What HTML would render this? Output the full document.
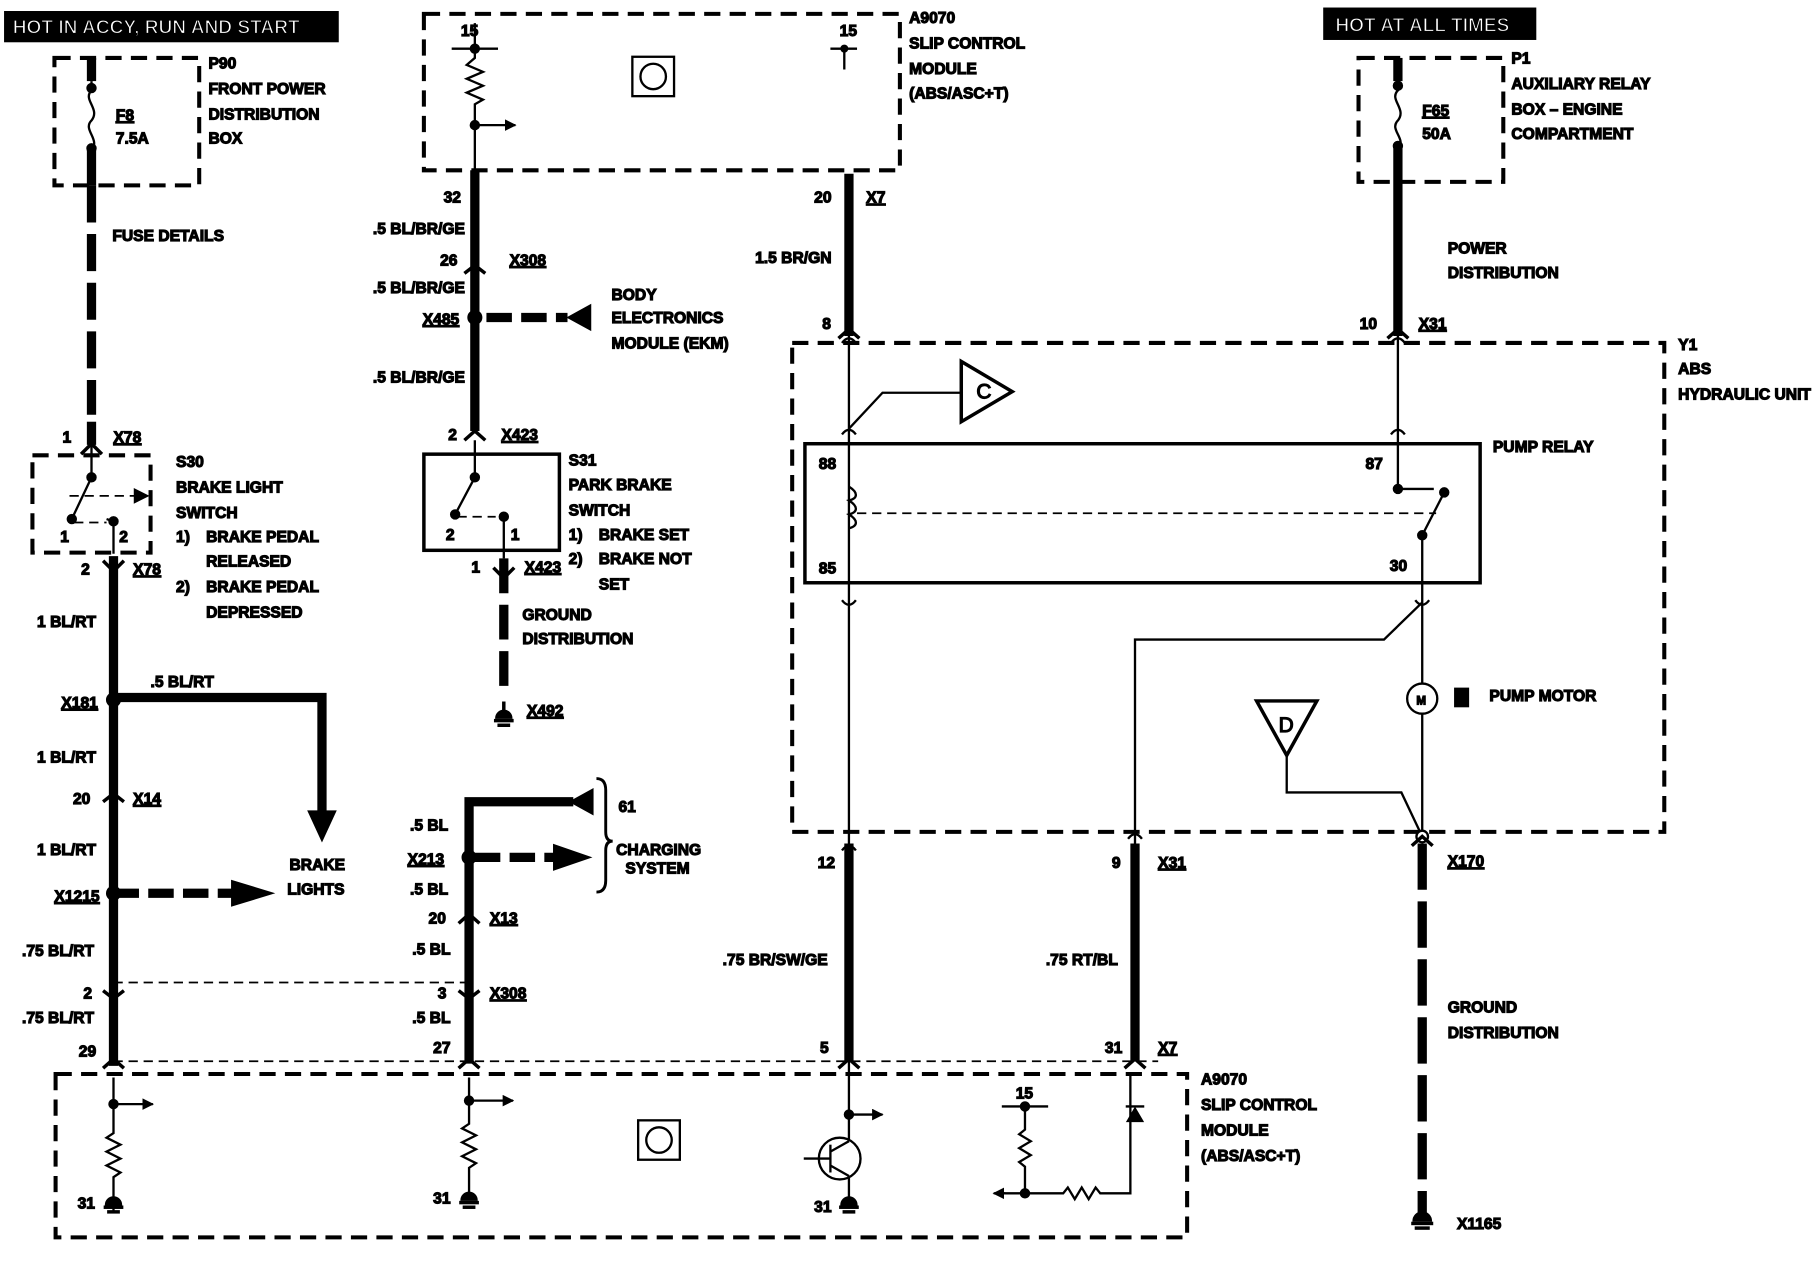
<!DOCTYPE html>
<html><head><meta charset="utf-8"><style>
html,body{margin:0;padding:0;background:#fff}
svg{display:block}
text{font-family:"Liberation Sans",Arial,sans-serif;font-weight:bold;font-size:13.5px;fill:#000}
.u{text-decoration:underline}
</style></head><body>
<svg width="1816" height="1264" viewBox="0 0 1568 1091" preserveAspectRatio="none" xmlns="http://www.w3.org/2000/svg">
<defs>
<marker id="ah" viewBox="0 0 10 10" refX="9" refY="5" markerWidth="5" markerHeight="5" orient="auto"><path d="M0,0 L10,5 L0,10z"/></marker>
</defs>
<g fill="none" stroke="#000">
<g stroke-width="3.5" stroke-dasharray="14,8">
<rect x="47" y="50" width="125" height="110"/>
<rect x="366" y="12" width="411" height="135"/>
<rect x="28" y="393" width="102" height="84"/>
<rect x="1173" y="50" width="125" height="107"/>
<rect x="684" y="296" width="753" height="422"/>
<rect x="48" y="927" width="977" height="141"/>
</g>
<rect x="366" y="392" width="117" height="83" stroke-width="3"/>
<rect x="695" y="383" width="583" height="120" stroke-width="3"/>
<g stroke-width="1.5" stroke-dasharray="8,5">
<line x1="98" y1="848" x2="405" y2="848"/>
<line x1="98" y1="916" x2="1000" y2="916"/>
<line x1="740" y1="443" x2="1240" y2="443"/>
<line x1="60" y1="428" x2="118" y2="428"/>
<line x1="64" y1="451" x2="92" y2="451"/>
<line x1="395" y1="446" x2="428" y2="446"/>
</g>
<g stroke-width="8">
<line x1="79" y1="50" x2="79" y2="70"/><line x1="79" y1="130" x2="79" y2="160"/>
<line x1="79" y1="160" x2="79" y2="358" stroke-dasharray="32,10"/>
<line x1="79" y1="364" x2="79" y2="384"/>
<line x1="98" y1="480" x2="98" y2="920"/>
<polyline points="98,602 278,602 278,700"/>
<line x1="98" y1="771" x2="200" y2="771" stroke-dasharray="22,8"/>
<line x1="410" y1="147" x2="410" y2="372"/>
<line x1="420" y1="274" x2="490" y2="274" stroke-dasharray="22,8"/>
<line x1="435" y1="482" x2="435" y2="600" stroke-dasharray="30,10"/>
<polyline points="405,740 405,692 495,692"/>
<line x1="410" y1="740" x2="478" y2="740" stroke-dasharray="22,8"/>
<line x1="405" y1="740" x2="405" y2="918"/>
<line x1="733" y1="150" x2="733" y2="290"/>
<line x1="733" y1="728" x2="733" y2="916"/>
<line x1="980" y1="728" x2="980" y2="916"/>
<line x1="1207" y1="50" x2="1207" y2="70"/><line x1="1207" y1="128" x2="1207" y2="290"/>
<line x1="1228" y1="728" x2="1228" y2="1050" stroke-dasharray="40,10"/>
</g>
<g stroke-width="2">
<path d="M79,70 v8 c-8,8 8,16 0,26 c-8,8 8,16 0,26"/>
<path d="M1207,70 v8 c-8,8 8,16 0,26 c-8,8 8,16 0,24"/>
<line x1="79" y1="384" x2="79" y2="412"/><line x1="79" y1="412" x2="62" y2="448"/>
<polyline points="98,478 98,450 92,448"/>
<line x1="410" y1="380" x2="410" y2="412"/><line x1="410" y1="412" x2="393" y2="444"/>
<polyline points="435,482 435,446 431,446"/>
<path d="M410,20 v30 l-7,6 l14,6 l-14,6 l14,6 l-14,6 l14,6 l-7,4 v60"/>
<line x1="410" y1="108" x2="445" y2="108" marker-end="url(#ah)"/>
<line x1="390" y1="42" x2="430" y2="42"/><line x1="717" y1="42" x2="740" y2="42"/><line x1="729" y1="42" x2="729" y2="60"/>
<rect x="546" y="49" width="36" height="34"/><circle cx="564" cy="66" r="11"/>
<rect x="551" y="967" width="36" height="34"/><circle cx="569" cy="984" r="11"/>
<line x1="733" y1="290" x2="733" y2="728"/>
<path d="M727,296 q6,-8 12,0 M727,375 q6,-8 12,0 M727,518 q6,8 12,0 M727,734 q6,-8 12,0"/>
<polyline points="733,370 762,339 830,339"/>
<polygon points="830,312 830,364 874,338" stroke-width="3"/>
<path d="M733,420 c8,5 8,10 0,12 c8,5 8,10 0,12 c8,5 8,10 0,12"/>
<line x1="1207" y1="290" x2="1207" y2="422"/>
<path d="M1201,296 q6,-8 12,0 M1201,375 q6,-8 12,0"/>
<line x1="1207" y1="422" x2="1238" y2="422"/>
<line x1="1228" y1="462" x2="1247" y2="425"/>
<line x1="1228" y1="462" x2="1228" y2="722"/>
<path d="M1222,518 q6,8 12,0"/>
<polyline points="1228,520 1195,552 980,552 980,728"/>
<path d="M974,724 q6,-8 12,0"/>
<polygon points="1085,605 1137,605 1111,652" stroke-width="3"/>
<polyline points="1111,652 1111,684 1210,684 1228,722"/>
<circle cx="1228" cy="722" r="5" fill="#fff"/>
<circle cx="1228" cy="603" r="13" fill="#fff"/>
<path d="M98,930 v48 l-6,4 l12,6 l-12,6 l12,6 l-12,6 l12,6 l-6,4 v30"/>
<line x1="98" y1="953" x2="132" y2="953" marker-end="url(#ah)"/>
<path d="M405,930 v40 l-6,4 l12,6 l-12,6 l12,6 l-12,6 l12,6 l-6,4 v28"/>
<line x1="405" y1="950" x2="443" y2="950" marker-end="url(#ah)"/>
<line x1="733" y1="916" x2="733" y2="985"/>
<line x1="733" y1="962" x2="762" y2="962" marker-end="url(#ah)"/>
<circle cx="725" cy="1000" r="18"/>
<line x1="694" y1="1000" x2="717" y2="1000"/><line x1="717" y1="988" x2="717" y2="1012"/>
<line x1="717" y1="994" x2="733" y2="985"/><line x1="717" y1="1006" x2="733" y2="1015"/>
<line x1="733" y1="1015" x2="733" y2="1036"/>
<line x1="865" y1="955" x2="905" y2="955"/>
<path d="M885,955 v20 l-5,4 l10,6 l-10,6 l10,6 l-10,6 l5,4 v23 M860,1030 H918 l4,-5 l6,10 l6,-10 l6,10 l6,-10 l4,5 h26 V927"/>
<line x1="868" y1="1030" x2="858" y2="1030" marker-end="url(#ah)"/>
<line x1="972" y1="955" x2="988" y2="955"/>
<path d="M515,672 q8,0 8,10 v36 q0,8 6,8 q-6,0 -6,8 v26 q0,10 -8,10" stroke-width="2.5"/>
<path d="M70,392 l9,-9 l9,9 M89,484 l9,9 l9,-9 M89,692 l9,-7 l9,7 M89,855 l9,7 l9,-7 M89,922 l9,-8 l9,8 M401,380 l9,-8 l9,8 M401,236 l9,-7 l9,7 M426,490 l9,9 l9,-9 M396,797 l9,-8 l9,8 M396,855 l9,7 l9,-7 M396,922 l9,-8 l9,8 M724,292 l9,-8 l9,8 M724,922 l9,-8 l9,8 M971,922 l9,-8 l9,8 M1198,292 l9,-8 l9,8 M1219,730 l9,-8 l9,8" stroke-width="3"/>
</g>
<g fill="#000">
<circle cx="79" cy="76" r="4"/><circle cx="79" cy="128" r="4"/>
<circle cx="1207" cy="74" r="4"/><circle cx="1207" cy="126" r="4"/>
<circle cx="410" cy="42" r="4"/><circle cx="410" cy="108" r="4"/><circle cx="729" cy="42" r="3"/>
<circle cx="79" cy="412" r="4"/><circle cx="62" cy="448" r="4"/><circle cx="98" cy="450" r="4"/>
<circle cx="410" cy="412" r="4"/><circle cx="393" cy="444" r="4"/><circle cx="435" cy="446" r="4"/>
<circle cx="98" cy="604" r="6"/><circle cx="98" cy="771" r="6"/><circle cx="410" cy="274" r="6"/><circle cx="405" cy="740" r="6"/>
<circle cx="1207" cy="422" r="4"/><circle cx="1228" cy="462" r="4"/><circle cx="1247" cy="425" r="4"/>
<circle cx="98" cy="953" r="4"/><circle cx="405" cy="950" r="4"/><circle cx="733" cy="962" r="4"/>
<circle cx="885" cy="955" r="4"/><circle cx="885" cy="1030" r="4"/>
<polygon points="128,428 116,422 116,434"/>
<polygon points="266,700 290,700 278,726"/>
<polygon points="200,760 200,782 236,771"/>
<polygon points="510,263 510,285 490,274"/>
<polygon points="512,681 512,703 492,692"/>
<polygon points="478,729 478,751 510,740"/>
<polygon points="973,968 987,968 980,956"/>
<rect x="1256" y="594" width="12" height="16"/>
<rect x="4" y="10" width="288" height="26"/><rect x="1143" y="7" width="183" height="27"/>
<path d="M91,1040 a7,7 0 0 1 14,0z"/><rect x="90" y="1041" width="16" height="2"/><rect x="93" y="1045" width="10" height="2"/>
<path d="M398,1036 a7,7 0 0 1 14,0z"/><rect x="397" y="1037" width="16" height="2"/><rect x="400" y="1041" width="10" height="2"/>
<path d="M726,1040 a7,7 0 0 1 14,0z"/><rect x="725" y="1041" width="16" height="2"/><rect x="728" y="1045" width="10" height="2"/>
<rect x="434" y="606" width="2" height="8"/>
<path d="M428,620 a7,7 0 0 1 14,0z"/><rect x="427" y="621" width="16" height="2"/><rect x="430" y="625" width="10" height="2"/>
<path d="M1220,1054 a8,8 0 0 1 16,0z"/><rect x="1219" y="1055" width="18" height="2"/><rect x="1222" y="1059" width="12" height="2"/>
</g>
<text x="11" y="29" style="fill:#fff;font-size:16.5px">HOT IN ACCY, RUN AND START</text>
<text x="1153" y="27" style="fill:#fff;font-size:16.5px">HOT AT ALL TIMES</text>
<text x="843" y="344" style="font-size:18px;font-weight:normal">C</text>
<text x="1104" y="632" style="font-size:18px;font-weight:normal">D</text>
<text x="1223" y="608" style="font-size:10px">M</text>
<g>
<text x="180" y="59">P90</text><text x="180" y="81">FRONT POWER</text><text x="180" y="103">DISTRIBUTION</text><text x="180" y="124">BOX</text>
<text x="100" y="104" class="u">F8</text><text x="100" y="124">7.5A</text>
<text x="97" y="208">FUSE DETAILS</text>
<text x="54" y="382">1</text><text x="98" y="382" class="u">X78</text>
<text x="152" y="403">S30</text><text x="152" y="425">BRAKE LIGHT</text><text x="152" y="447">SWITCH</text>
<text x="152" y="468">1)</text><text x="178" y="468">BRAKE PEDAL</text><text x="178" y="489">RELEASED</text>
<text x="152" y="511">2)</text><text x="178" y="511">BRAKE PEDAL</text><text x="178" y="533">DEPRESSED</text>
<text x="52" y="468">1</text><text x="103" y="468">2</text>
<text x="70" y="496">2</text><text x="115" y="496" class="u">X78</text>
<text x="32" y="541">1 BL/RT</text>
<text x="130" y="593">.5 BL/RT</text>
<text x="53" y="611" class="u">X181</text>
<text x="32" y="658">1 BL/RT</text>
<text x="63" y="694">20</text><text x="115" y="694" class="u">X14</text>
<text x="32" y="738">1 BL/RT</text>
<text x="47" y="778" class="u">X1215</text>
<text x="250" y="751">BRAKE</text><text x="248" y="772">LIGHTS</text>
<text x="19" y="825">.75 BL/RT</text>
<text x="72" y="862">2</text>
<text x="19" y="883">.75 BL/RT</text>
<text x="68" y="912">29</text>
<text x="398" y="31">15</text><text x="725" y="31">15</text>
<text x="785" y="20">A9070</text><text x="785" y="42">SLIP CONTROL</text><text x="785" y="64">MODULE</text><text x="785" y="85">(ABS/ASC+T)</text>
<text x="383" y="175">32</text>
<text x="322" y="202">.5 BL/BR/GE</text>
<text x="380" y="229">26</text><text x="440" y="229" class="u">X308</text>
<text x="322" y="253">.5 BL/BR/GE</text>
<text x="365" y="280" class="u">X485</text>
<text x="528" y="259">BODY</text><text x="528" y="279">ELECTRONICS</text><text x="528" y="301">MODULE (EKM)</text>
<text x="322" y="330">.5 BL/BR/GE</text>
<text x="387" y="380">2</text><text x="433" y="380" class="u">X423</text>
<text x="491" y="402">S31</text><text x="491" y="423">PARK BRAKE</text><text x="491" y="445">SWITCH</text>
<text x="491" y="466">1)</text><text x="517" y="466">BRAKE SET</text><text x="491" y="487">2)</text><text x="517" y="487">BRAKE NOT</text><text x="517" y="509">SET</text>
<text x="385" y="466">2</text><text x="441" y="466">1</text>
<text x="407" y="494">1</text><text x="453" y="494" class="u">X423</text>
<text x="451" y="535">GROUND</text><text x="451" y="556">DISTRIBUTION</text>
<text x="455" y="618" class="u">X492</text>
<text x="534" y="701">61</text><text x="532" y="738">CHARGING</text><text x="540" y="754">SYSTEM</text>
<text x="354" y="717">.5 BL</text>
<text x="352" y="746" class="u">X213</text>
<text x="354" y="772">.5 BL</text>
<text x="370" y="797">20</text><text x="423" y="797" class="u">X13</text>
<text x="356" y="824">.5 BL</text>
<text x="378" y="862">3</text><text x="423" y="862" class="u">X308</text>
<text x="356" y="883">.5 BL</text>
<text x="374" y="909">27</text>
<text x="703" y="175">20</text><text x="748" y="175" class="u">X7</text>
<text x="652" y="227">1.5 BR/GN</text>
<text x="710" y="284">8</text>
<text x="707" y="405">88</text><text x="707" y="495">85</text>
<text x="1179" y="405">87</text><text x="1200" y="493">30</text>
<text x="1289" y="390">PUMP RELAY</text>
<text x="1449" y="302">Y1</text><text x="1449" y="323">ABS</text><text x="1449" y="345">HYDRAULIC UNIT</text>
<text x="1305" y="55">P1</text><text x="1305" y="77">AUXILIARY RELAY</text><text x="1305" y="99">BOX – ENGINE</text><text x="1305" y="120">COMPARTMENT</text>
<text x="1228" y="100" class="u">F65</text><text x="1228" y="120">50A</text>
<text x="1250" y="219">POWER</text><text x="1250" y="240">DISTRIBUTION</text>
<text x="1174" y="284">10</text><text x="1225" y="284" class="u">X31</text>
<text x="1286" y="605">PUMP MOTOR</text>
<text x="706" y="749">12</text>
<text x="960" y="749">9</text><text x="1000" y="749" class="u">X31</text>
<text x="1250" y="748" class="u">X170</text>
<text x="624" y="833">.75 BR/SW/GE</text>
<text x="903" y="833">.75 RT/BL</text>
<text x="1250" y="874">GROUND</text><text x="1250" y="896">DISTRIBUTION</text>
<text x="708" y="909">5</text>
<text x="954" y="909">31</text><text x="1000" y="909" class="u">X7</text>
<text x="1037" y="936">A9070</text><text x="1037" y="958">SLIP CONTROL</text><text x="1037" y="980">MODULE</text><text x="1037" y="1002">(ABS/ASC+T)</text>
<text x="877" y="948">15</text>
<text x="67" y="1043">31</text><text x="374" y="1039">31</text><text x="703" y="1046">31</text>
<text x="1258" y="1061">X1165</text>
</g>
</svg>
</body></html>
